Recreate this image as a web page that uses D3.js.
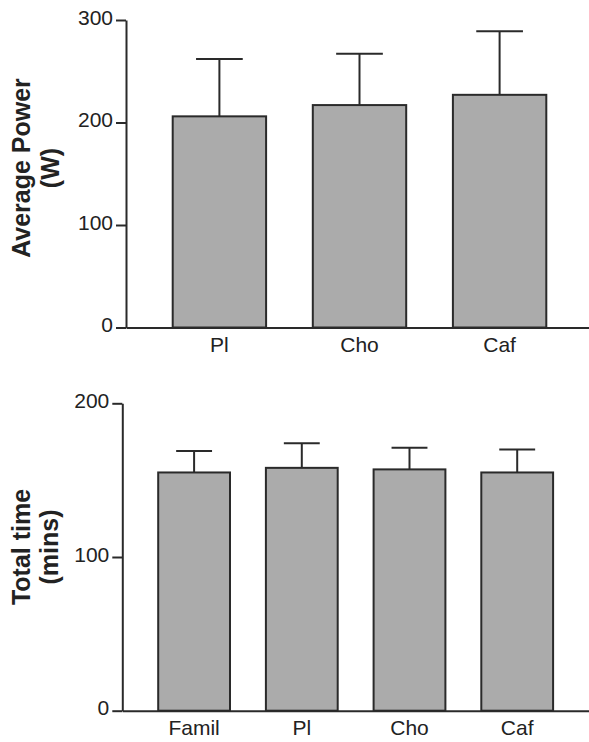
<!DOCTYPE html>
<html>
<head>
<meta charset="utf-8"/>
<script src="https://cdn.jsdelivr.net/npm/d3@7"></script>
<title>Average power and total time</title>
<style>
body { margin: 0; background: #fff; }
text { font-family: "Liberation Sans", Arial, sans-serif; fill: #222; }
.tick text { font-size: 21px; }
.ylabel { font-size: 25px; font-weight: bold; }
.axis path, .axis line { stroke: #2a2a2a; stroke-width: 2px; }
.bar { fill: #ababab; stroke: #2a2a2a; stroke-width: 2px; }
.err { stroke: #2a2a2a; stroke-width: 2px; fill: none; }
</style>
</head>
<body>
<svg width="589" height="742"></svg>
<script>
// top panel: average power (W)
var powerCats = ["Pl", "Cho", "Caf"];
var powerMean = [206, 217, 227];
var powerErr  = [262, 267, 289];   // top of SD bar
var powerTicks = [0, 100, 200, 300];

// bottom panel: total time (mins)
var timeCats = ["Famil", "Pl", "Cho", "Caf"];
var timeMean = [155, 158, 157, 155];
var timeErr  = [169, 174, 171, 170];
var timeTicks = [0, 100, 200];

var svg = d3.select("svg");

function panel(cfg) {
  var g = svg.append("g");

  var x = d3.scaleBand()
      .domain(cfg.cats)
      .range(cfg.xRange)
      .paddingInner(1 / 3)
      .paddingOuter(1 / 3);

  var y = d3.scaleLinear()
      .domain(cfg.yDomain)
      .range(cfg.yRange);

  var data = cfg.cats.map(function(c, i) {
    return { cat: c, mean: cfg.mean[i], err: cfg.err[i] };
  });

  // error bars (drawn first so the bar outline sits over the stem)
  var bw = x.bandwidth();
  var e = g.selectAll(".errg").data(data).enter().append("g");
  e.append("line").attr("class", "err")
      .attr("x1", function(d) { return x(d.cat) + bw / 2; })
      .attr("x2", function(d) { return x(d.cat) + bw / 2; })
      .attr("y1", function(d) { return y(d.mean); })
      .attr("y2", function(d) { return y(d.err); });
  e.append("line").attr("class", "err")
      .attr("x1", function(d) { return x(d.cat) + bw / 4; })
      .attr("x2", function(d) { return x(d.cat) + bw * 3 / 4; })
      .attr("y1", function(d) { return y(d.err); })
      .attr("y2", function(d) { return y(d.err); });

  g.selectAll(".bar").data(data).enter().append("rect")
      .attr("class", "bar")
      .attr("x", function(d) { return x(d.cat); })
      .attr("width", bw)
      .attr("y", function(d) { return y(d.mean); })
      .attr("height", function(d) { return y(0) - y(d.mean); });

  // axes
  g.append("g").attr("class", "axis")
      .attr("transform", "translate(" + cfg.xRange[0] + ",0)")
      .call(d3.axisLeft(y).tickValues(cfg.ticks).tickSize(10).tickPadding(3).tickSizeOuter(0))
    .selectAll("text").attr("dy", "0.2em");

  g.append("g").attr("class", "axis")
      .attr("transform", "translate(0," + y(0) + ")")
      .call(d3.axisBottom(x).tickSize(0).tickPadding(cfg.xPad).tickSizeOuter(0));

  // rotated two-line y label
  var lab = g.append("text")
      .attr("class", "ylabel")
      .attr("text-anchor", "middle")
      .attr("transform", "translate(0," + cfg.labelY + ") rotate(-90)");
  lab.selectAll("tspan").data(cfg.label).enter().append("tspan")
      .attr("x", 0)
      .attr("y", function(d, i) { return cfg.labelX[i]; })
      .text(function(d) { return d; });
}

panel({
  cats: powerCats, mean: powerMean, err: powerErr, ticks: powerTicks,
  xRange: [126, 593], yDomain: [0, 300], yRange: [327.5, 20],
  xPad: 9.5, label: ["Average Power", "(W)"], labelX: [30, 59], labelY: 168
});

panel({
  cats: timeCats, mean: timeMean, err: timeErr, ticks: timeTicks,
  xRange: [122.3, 589], yDomain: [0, 200], yRange: [710.7, 403.3],
  xPad: 9, label: ["Total time", "(mins)"], labelX: [30, 58], labelY: 547
});
</script>
</body>
</html>
